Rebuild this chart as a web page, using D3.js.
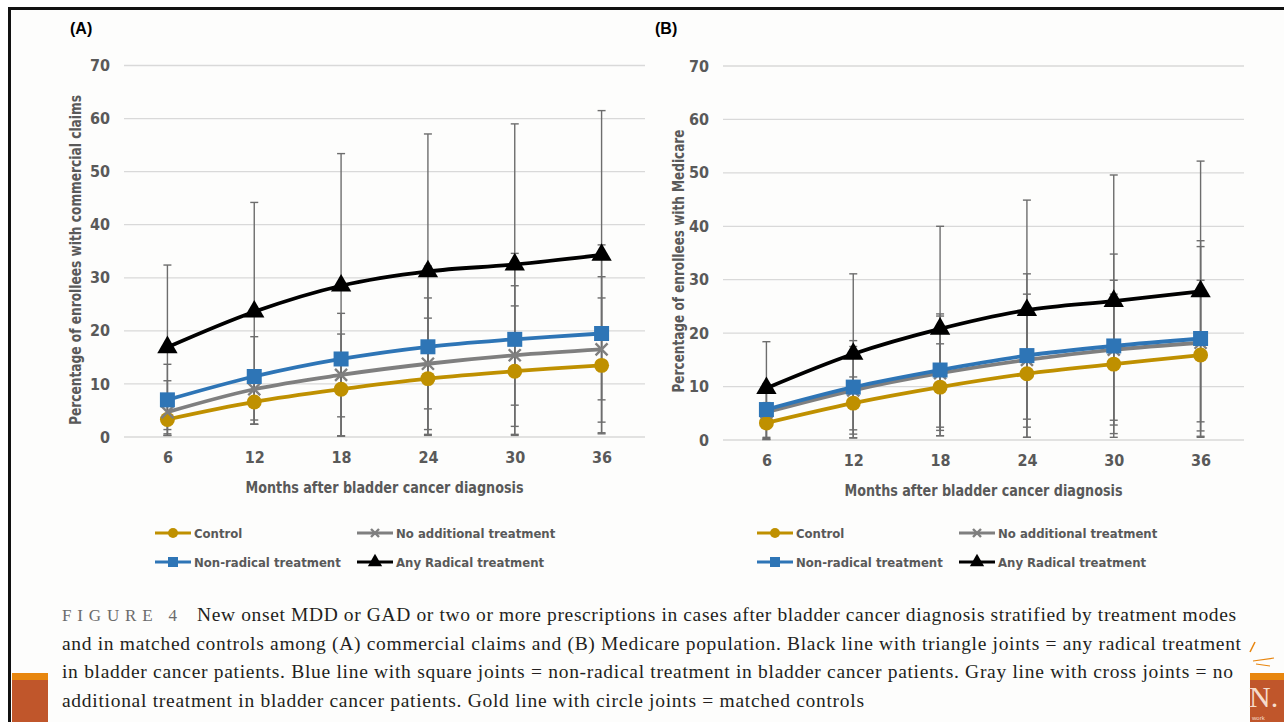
<!DOCTYPE html>
<html>
<head>
<meta charset="utf-8">
<script src="https://cdn.jsdelivr.net/npm/d3@7"></script>
<style>
  html, body { margin: 0; padding: 0; background: #ffffff; }
  svg { display: block; }
  .chart text { font-family: "Liberation Sans Narrow", "DejaVu Sans Condensed", Lato, sans-serif; font-weight: 700; fill: #595959; }
  .caption text { font-family: "Liberation Serif", serif; fill: #231f20; }
</style>
</head>
<body>
<div id="figure"></div>
<script>
// ---- data ----
const months = [6, 12, 18, 24, 30, 36];
const yTicks = [0, 10, 20, 30, 40, 50, 60, 70];
const seriesNames = ["Control", "No additional treatment", "Non-radical treatment", "Any Radical treatment"];

// (A) commercial claims
const commControl  = [3.3, 6.6, 9.0, 11.0, 12.4, 13.5];
const commNoAdd    = [4.7, 9.0, 11.7, 13.8, 15.4, 16.5];
const commNonRad   = [7.0, 11.4, 14.7, 17.0, 18.4, 19.5];
const commRadical  = [16.9, 23.6, 28.5, 31.2, 32.5, 34.3];
// 95% CI (low, high)
const commControlCI = [[0.3, 7.5], [2.4, 11.0], [0.2, 15.5], [0.5, 22.4], [0.5, 24.7], [0.8, 26.2]];
const commNoAddCI   = [[0.3, 10.6], [2.4, 12.0], [0.2, 19.4], [0.3, 26.2], [0.3, 28.5], [0.6, 30.2]];
const commNonRadCI  = [[0.6, 13.7], [2.4, 18.9], [0.2, 23.3], [1.4, 32.2], [2.0, 34.6], [2.8, 36.2]];
const commRadicalCI = [[1.4, 32.4], [3.2, 44.2], [3.8, 53.4], [5.3, 57.1], [6.0, 59.0], [7.0, 61.5]];

// (B) Medicare
const medControl  = [3.2, 6.9, 9.9, 12.4, 14.2, 15.9];
const medNoAdd    = [5.2, 9.3, 12.5, 15.0, 16.9, 18.2];
const medNonRad   = [5.7, 9.9, 13.1, 15.8, 17.6, 19.0];
const medRadical  = [9.7, 16.1, 20.8, 24.3, 26.0, 27.8];
const medControlCI = [[0.1, 7.0], [0.4, 11.8], [0.8, 18.0], [0.5, 24.5], [0.5, 27.3], [0.5, 29.9]];
const medNoAddCI   = [[0.1, 10.0], [0.4, 17.5], [0.8, 23.2], [0.5, 27.3], [1.2, 29.9], [0.7, 36.2]];
const medNonRadCI  = [[0.3, 10.5], [1.1, 18.6], [1.8, 23.6], [2.4, 31.1], [2.8, 34.8], [1.7, 37.3]];
const medRadicalCI = [[0.5, 18.4], [1.9, 31.1], [2.4, 40.0], [3.9, 44.9], [3.7, 49.6], [3.4, 52.2]];

const captionLines = [
  "New onset MDD or GAD or two or more prescriptions in cases after bladder cancer diagnosis stratified by treatment modes",
  "and in matched controls among (A) commercial claims and (B) Medicare population. Black line with triangle joints = any radical treatment",
  "in bladder cancer patients. Blue line with square joints = non-radical treatment in bladder cancer patients. Gray line with cross joints = no",
  "additional treatment in bladder cancer patients. Gold line with circle joints = matched controls"
];

// ---- styles ----
const W = 1284, H = 722;
const colors = ["#bf9000", "#7f7f7f", "#2e75b6", "#000000"];
const markers = ["circle", "cross", "square", "triangle"];

const svg = d3.select("#figure").append("svg")
  .attr("width", W).attr("height", H)
  .attr("viewBox", [0, 0, W, H]);

svg.append("rect").attr("width", W).attr("height", H).attr("fill", "#ffffff");
svg.append("rect").attr("x", 10).attr("y", 9).attr("width", W - 10).attr("height", H - 9).attr("fill", "#fdfdfc");

// slide frame
svg.append("line").attr("x1", 9.5).attr("x2", W).attr("y1", 8.5).attr("y2", 8.5)
  .attr("stroke", "#111").attr("stroke-width", 3);
svg.append("line").attr("x1", 9.5).attr("x2", 9.5).attr("y1", 7).attr("y2", H)
  .attr("stroke", "#111").attr("stroke-width", 3);

// slide decorations at the bottom corners
function block(x, w) {
  svg.append("rect").attr("x", x).attr("y", 673).attr("width", w).attr("height", H - 673).attr("fill", "#c0562b");
  svg.append("rect").attr("x", x).attr("y", 673).attr("width", w).attr("height", 7).attr("fill", "#e8860f");
}
block(12, 36);
block(1250, 34);
svg.append("text").attr("x", 1249).attr("y", 707)
  .attr("font-family", "Liberation Serif, serif").attr("font-size", 30).attr("fill", "#f6dccb").text("N.");
svg.append("text").attr("x", 1252).attr("y", 720)
  .attr("font-family", "Liberation Sans, sans-serif").attr("font-size", 6).attr("fill", "#f6dccb").text("work");
svg.append("path").attr("d", "M1255,642 L1250,652").attr("stroke", "#e8860f").attr("stroke-width", 1.5);
svg.append("path").attr("d", "M1253,661 L1274,658 M1256,664 L1270,666").attr("stroke", "#e8860f").attr("stroke-width", 1.2);

function markerPath(type, size) {
  const s = size;
  if (type === "circle") return d3.symbol(d3.symbolCircle, s * s * 0.78)();
  if (type === "square") return d3.symbol(d3.symbolSquare, s * s)();
  if (type === "triangle") return d3.symbol(d3.symbolTriangle, s * s * 0.62)();
  const h = s / 2;
  return `M${-h},${-h}L${h},${h}M${-h},${h}L${h},${-h}`;
}

function drawMarker(g, type, color, size) {
  const p = g.append("path").attr("d", markerPath(type, size));
  if (type === "cross") p.attr("fill", "none").attr("stroke", color).attr("stroke-width", 2.4);
  else p.attr("fill", color);
  return p;
}

function drawPanel(opt) {
  const g = svg.append("g").attr("class", "chart");
  const x = d3.scalePoint().domain(months).range(opt.xRange).padding(0.5);
  const y = d3.scaleLinear().domain([0, 70]).range(opt.yRange);

  // grid
  g.append("g").selectAll("line").data(yTicks).join("line")
    .attr("x1", opt.xRange[0]).attr("x2", opt.xRange[1])
    .attr("y1", d => y(d)).attr("y2", d => y(d))
    .attr("stroke", "#d9d9d9").attr("stroke-width", 1.3);

  // y axis labels
  const yAxis = d3.axisLeft(y).tickValues(yTicks).tickSize(0).tickPadding(14);
  g.append("g").attr("transform", `translate(${opt.xRange[0]},0)`).call(yAxis)
    .call(a => a.select(".domain").remove())
    .selectAll("text").attr("font-size", 16).attr("font-family", null);

  // x axis labels
  const xAxis = d3.axisBottom(x).tickSize(0).tickPadding(15);
  g.append("g").attr("transform", `translate(0,${opt.yRange[0]})`).call(xAxis)
    .call(a => a.select(".domain").remove())
    .selectAll("text").attr("font-size", 16).attr("font-family", null);

  // axis titles
  g.append("text").attr("x", (opt.xRange[0] + opt.xRange[1]) / 2).attr("y", opt.yRange[0] + 56)
    .attr("text-anchor", "middle").attr("font-size", 16)
    .attr("textLength", 278).attr("lengthAdjust", "spacingAndGlyphs")
    .text("Months after bladder cancer diagnosis");
  g.append("text").attr("transform", `translate(${opt.yTitleX},${opt.yTitleY}) rotate(-90)`)
    .attr("text-anchor", "middle").attr("font-size", 16)
    .attr("textLength", opt.yTitleLen).attr("lengthAdjust", "spacingAndGlyphs")
    .text(opt.yTitle);

  // panel tag
  svg.append("text").attr("x", opt.tagX).attr("y", 34)
    .attr("font-family", "Liberation Sans, Arial, sans-serif").attr("font-weight", 700)
    .attr("font-size", 16).attr("fill", "#000").text(opt.tag);

  // error bars
  const eb = g.append("g").attr("stroke", "#6d6d6d").attr("stroke-width", 1.4);
  opt.ci.forEach(ci => {
    ci.forEach((c, i) => {
      const cx = x(months[i]);
      eb.append("line").attr("x1", cx).attr("x2", cx).attr("y1", y(c[0])).attr("y2", y(c[1]));
      eb.append("line").attr("x1", cx - 4).attr("x2", cx + 4).attr("y1", y(c[0])).attr("y2", y(c[0]));
      eb.append("line").attr("x1", cx - 4).attr("x2", cx + 4).attr("y1", y(c[1])).attr("y2", y(c[1]));
    });
  });

  // lines + markers
  const line = d3.line().x((d, i) => x(months[i])).y(d => y(d)).curve(d3.curveCatmullRom.alpha(0.5));
  opt.series.forEach((vals, s) => {
    g.append("path").datum(vals).attr("d", line)
      .attr("fill", "none").attr("stroke", colors[s]).attr("stroke-width", 3.8)
      .attr("stroke-linejoin", "round");
    vals.forEach((v, i) => {
      const m = g.append("g").attr("transform", `translate(${x(months[i])},${y(v)})`);
      drawMarker(m, markers[s], colors[s], markers[s] === "cross" ? 12 : (markers[s] === "triangle" ? 17 : 15));
    });
  });

  // legend
  const legendPos = [[0, 0], [202, 0], [0, 29], [202, 29]];
  seriesNames.forEach((name, s) => {
    const lg = g.append("g").attr("transform", `translate(${opt.legendX + legendPos[s][0]},${533 + legendPos[s][1]})`);
    lg.append("line").attr("x1", 0).attr("x2", 36).attr("stroke", colors[s]).attr("stroke-width", 3.2);
    const m = lg.append("g").attr("transform", "translate(18,0)");
    drawMarker(m, markers[s], colors[s], markers[s] === "cross" ? 8 : (markers[s] === "triangle" ? 12 : 10));
    lg.append("text").attr("x", 39).attr("y", 0).attr("dy", "0.35em").attr("font-size", 13).text(name);
  });
}

drawPanel({
  tag: "(A)", tagX: 70,
  xRange: [124, 645], yRange: [437, 65.5],
  yTitle: "Percentage of enrollees with commercial claims", yTitleX: 81, yTitleY: 260, yTitleLen: 330,
  series: [commControl, commNoAdd, commNonRad, commRadical],
  ci: [commControlCI, commNoAddCI, commNonRadCI, commRadicalCI],
  legendX: 155
});

drawPanel({
  tag: "(B)", tagX: 655,
  xRange: [723, 1244], yRange: [440, 66],
  yTitle: "Percentage of enrollees with Medicare", yTitleX: 684, yTitleY: 261, yTitleLen: 263,
  series: [medControl, medNoAdd, medNonRad, medRadical],
  ci: [medControlCI, medNoAddCI, medNonRadCI, medRadicalCI],
  legendX: 757
});

// caption
const cap = svg.append("g").attr("class", "caption");
const lineEnds = [1236, 1241, 1233, 864];
const lineY = [621, 650, 678, 707];
cap.append("text").attr("x", 62).attr("y", lineY[0])
  .attr("font-size", 17).attr("textLength", 115).attr("lengthAdjust", "spacing")
  .attr("style", "fill:#6b6b6b")
  .text("FIGURE 4");
captionLines.forEach((t, i) => {
  const x0 = i === 0 ? 197 : 62;
  cap.append("text").attr("x", x0).attr("y", lineY[i]).attr("font-size", 19.5)
    .attr("textLength", lineEnds[i] - x0).attr("lengthAdjust", "spacing")
    .text(t);
});
</script>
</body>
</html>
